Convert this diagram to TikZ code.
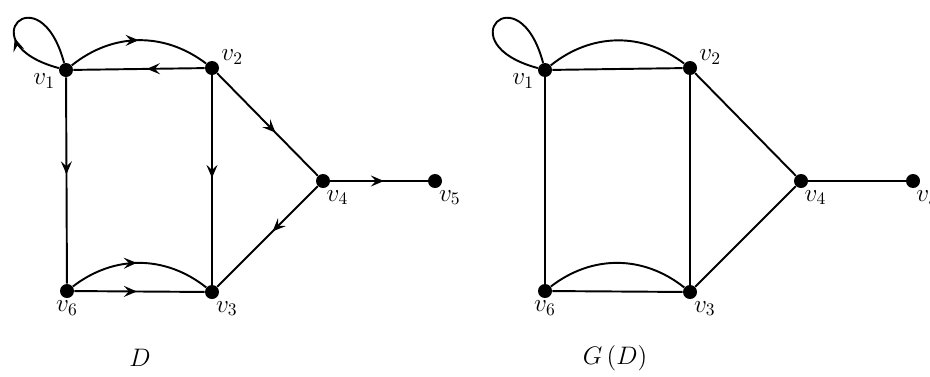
\documentclass[tikz,border=0pt]{standalone}
\usetikzlibrary{arrows.meta,decorations.markings}

\begin{document}
\begin{tikzpicture}[x=0.02cm,y=-0.02cm,
  vertex/.style={circle,fill,inner sep=0pt,minimum size=0.28cm},
  edge/.style={line width=1.1pt},
  midarrow/.style={postaction={decorate,decoration={markings,
    mark=at position #1 with {\arrow{Stealth[length=2.6mm,width=2.2mm,inset=1mm]}}}}},
  midarrow/.default=0.5,
  every label/.style={font=\Large,inner sep=1pt}]
  \useasboundingbox (0,0) rectangle (930,376);

  % Vertices of D
  \node[vertex,label={[label distance=1pt]190:$v_1$}] (v1) at (66,70) {};
  \node[vertex,label={[label distance=0pt]10:$v_2$}] (v2) at (212,68) {};
  \node[vertex,label={[label distance=0pt]-78:$v_4$}] (v4) at (323,181) {};
  \node[vertex,label={[label distance=0pt]-75:$v_5$}] (v5) at (435,181) {};
  \node[vertex,label={[label distance=0pt]-90:$v_6$}] (v6) at (67,291) {};
  \node[vertex,label={[label distance=0pt]-75:$v_3$}] (v3) at (212,292) {};

  % Arcs of D
  \draw[edge,midarrow=0.38] (v1) to[out=165,in=105,distance=1.9cm] (v1);
  \draw[edge,midarrow] (v1) to[bend left=38] (v2);
  \draw[edge,midarrow=0.44] (v2) -- (v1);
  \draw[edge,midarrow=0.47] (v1) -- (v6);
  \draw[edge,midarrow=0.49] (v2) -- (v3);
  \draw[edge,midarrow=0.58] (v2) -- (v4);
  \draw[edge,midarrow=0.45] (v4) -- (v3);
  \draw[edge,midarrow=0.55] (v4) -- (v5);
  \draw[edge,midarrow=0.48] (v6) to[bend left=38] (v3);
  \draw[edge,midarrow=0.48] (v6) -- (v3);

  \node[font=\Large] (d) at (140,358) {$D$};

  % Vertices of G(D)
  \node[vertex,label={[label distance=1pt]190:$v_1$}] (w1) at (545,70) {};
  \node[vertex,label={[label distance=0pt]10:$v_2$}] (w2) at (690,68) {};
  \node[vertex,label={[label distance=0pt]-78:$v_4$}] (w4) at (801,181) {};
  \node[vertex,label={[label distance=0pt]-80:$v_5$}] (w5) at (913,181) {};
  \node[vertex,label={[label distance=0pt]-90:$v_6$}] (w6) at (545,291) {};
  \node[vertex,label={[label distance=0pt]-75:$v_3$}] (w3) at (690,292) {};

  % Edges of G(D)
  \draw[edge] (w1) to[out=165,in=105,distance=1.9cm] (w1);
  \draw[edge] (w1) to[bend left=38] (w2);
  \draw[edge] (w2) -- (w1);
  \draw[edge] (w1) -- (w6);
  \draw[edge] (w2) -- (w3);
  \draw[edge] (w2) -- (w4);
  \draw[edge] (w4) -- (w3);
  \draw[edge] (w4) -- (w5);
  \draw[edge] (w6) to[bend left=38] (w3);
  \draw[edge] (w6) -- (w3);

  \node[font=\Large] (gd) at (615,358) {$G\left(D\right)$};
\end{tikzpicture}
\end{document}
